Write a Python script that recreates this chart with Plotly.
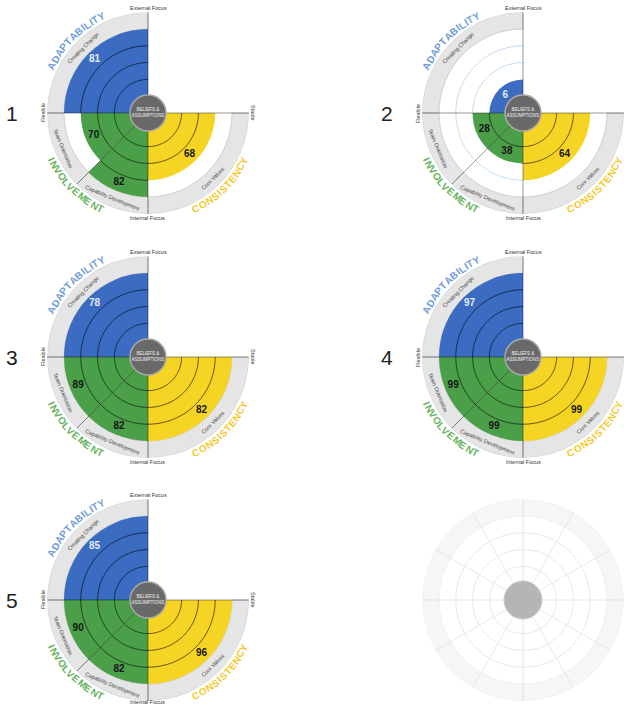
import math
import numpy as np
import plotly.graph_objects as go

# ---------------- data ----------------
chart_ids = ["1", "2", "3", "4", "5"]
creating_change = [81, 6, 78, 97, 85]
team_orientation = [70, 28, 89, 99, 90]
capability_development = [82, 38, 82, 99, 82]
core_values = [68, 64, 82, 99, 96]

segment_names = ["Creating Change", "Team Orientation", "Capability Development", "Core Values"]
segment_theta = [135, 202.5, 247.5, 315]
segment_width = [90, 45, 45, 90]

trait_names = ["ADAPTABILITY", "INVOLVEMENT", "CONSISTENCY"]
trait_theta = [135, 225, 315]

axis_labels = ["External Focus", "Flexible", "Internal Focus", "Stable"]
axis_theta = [90, 180, 270, 0]

# ---------------- style / layout ----------------
W, H = 624, 706
U = 16.8                      # pixels per ring unit
RMAX = 6                      # outer edge of band (ring units)
FONT = "Liberation Sans, Arial, sans-serif"
seg_colors = ["#3b6cc1", "#4a9f48", "#4a9f48", "#f6d423"]
val_colors = ["#e4ebf7", "#161616", "#161616", "#161616"]
trait_colors = ["#6f9cd9", "#67b45c", "#f5c92e"]
centers = [(148, 113), (523, 113), (148, 357), (523, 357), (148, 600)]
blank_center = (523, 600)

# optical letter widths (em) for letter-by-letter arc text
BOLD_W = dict(A=.70, B=.70, C=.70, D=.70, E=.64, I=.30, L=.56, M=.80,
              N=.70, O=.74, P=.64, S=.64, T=.58, V=.62, Y=.62)


def domain(cx, cy):
    R = RMAX * U
    return dict(x=[max(0, (cx - R) / W), min(1, (cx + R) / W)],
                y=[max(0, 1 - (cy + R) / H), min(1, 1 - (cy - R) / H)])


def to_px(cx, cy, r, th):
    t = math.radians(th)
    return cx + r * U * math.cos(t), cy - r * U * math.sin(t)


def paper(px, py):
    return px / W, 1 - py / H


def quart_top(v):
    return 1 + max(1, math.ceil(v / 25))


fig = go.Figure()
annotations = []


def polar_layout(cx, cy):
    return dict(domain=domain(cx, cy), bgcolor="rgba(0,0,0,0)",
                radialaxis=dict(visible=False, range=[0, RMAX]),
                angularaxis=dict(visible=False, rotation=0, direction="counterclockwise"))


def arc(r, a0, a1, n=60):
    th = list(np.linspace(a0, a1, n))
    return [r] * n, th


layout_polars = {}
for i, cid in enumerate(chart_ids):
    sp = "polar" if i == 0 else f"polar{i + 1}"
    cx, cy = centers[i]
    layout_polars[sp] = polar_layout(cx, cy)
    vals = [creating_change[i], team_orientation[i], capability_development[i], core_values[i]]
    tops = [quart_top(v) for v in vals]

    # outer grey band
    fig.add_trace(go.Barpolar(subplot=sp, theta=segment_theta, width=segment_width,
                              base=[5] * 4, r=[1] * 4,
                              marker=dict(color="#e5e5e5", line=dict(color="#c6c6c6", width=0.8)),
                              hoverinfo="skip"))
    # coloured bars
    fig.add_trace(go.Barpolar(subplot=sp, theta=segment_theta, width=segment_width,
                              base=[0] * 4, r=tops,
                              marker=dict(color=seg_colors, line=dict(width=0)),
                              hovertext=[f"{n}: {v}" for n, v in zip(segment_names, vals)],
                              hoverinfo="text"))
    # ring arcs
    dr, dt, lr, lt = [], [], [], []
    for th, w, top in zip(segment_theta, segment_width, tops):
        a0, a1 = th - w / 2, th + w / 2
        for k in [1, 2, 3, 4]:
            rr, tt = arc(k, a0, a1)
            if k < top:
                dr += rr + [None]; dt += tt + [None]
            elif k > top:
                lr += rr + [None]; lt += tt + [None]
    fig.add_trace(go.Scatterpolar(subplot=sp, r=lr, theta=lt, mode="lines",
                                  line=dict(color="#bcd9f3", width=1), hoverinfo="skip"))
    fig.add_trace(go.Scatterpolar(subplot=sp, r=dr, theta=dt, mode="lines",
                                  line=dict(color="rgba(0,0,0,0.6)", width=1), hoverinfo="skip"))
    # axis / divider lines
    lr2, lt2 = [], []
    for th, rmax in [(90, 6.2), (270, 6.2), (180, 6.1), (0, 6.1), (225, 6.0)]:
        lr2 += [0, rmax, None]; lt2 += [th, th, None]
    fig.add_trace(go.Scatterpolar(subplot=sp, r=lr2, theta=lt2, mode="lines", cliponaxis=False,
                                  line=dict(color="rgba(0,0,0,0.45)", width=0.9), hoverinfo="skip"))
    # centre circle
    fig.add_trace(go.Scatterpolar(subplot=sp, r=[0], theta=[0], mode="markers+text",
                                  marker=dict(size=36, color="#696969", line=dict(color="#a9a9a9", width=1.5)),
                                  text=["BELIEFS &<br>ASSUMPTIONS"], textposition="middle center",
                                  textfont=dict(size=4.5, color="#f0f0f0", family=FONT),
                                  hoverinfo="skip"))
    # value labels
    fig.add_trace(go.Scatterpolar(subplot=sp, r=[t - 0.5 for t in tops], theta=segment_theta,
                                  mode="text", text=[f"<b>{v}</b>" for v in vals],
                                  textfont=dict(size=10, color=val_colors, family=FONT),
                                  hoverinfo="skip"))

    # chart number
    x, y = paper(cx - 136, cy)
    annotations.append(dict(x=x, y=y, xref="paper", yref="paper", text=cid, showarrow=False,
                            font=dict(size=21, color="#222", family=FONT),
                            xanchor="center", yanchor="middle"))
    # axis labels
    for lab, th in zip(axis_labels, axis_theta):
        px, py = to_px(cx, cy, 6.25, th)
        if px > W - 3:
            continue
        py = min(py, H - 4)
        ang = {90: 0, 270: 0, 180: -90, 0: 90}[th]
        x, y = paper(px, py)
        annotations.append(dict(x=x, y=y, xref="paper", yref="paper", text=lab, showarrow=False,
                                textangle=ang, font=dict(size=5.5, color="#333", family=FONT),
                                xanchor="center", yanchor="middle"))
    # band labels
    for lab, th in zip(segment_names, segment_theta):
        px, py = to_px(cx, cy, 5.5, th)
        ang = 90 - th if 0 < th < 180 else 270 - th
        x, y = paper(px, py)
        annotations.append(dict(x=x, y=y, xref="paper", yref="paper", text=lab, showarrow=False,
                                textangle=ang, font=dict(size=5.5, color="#444", family=FONT),
                                xanchor="center", yanchor="middle"))
    # curved trait titles
    Rt = 107.0
    fs = 10
    for name, thc, col in zip(trait_names, trait_theta, trait_colors):
        widths = [BOLD_W[c] * fs + 0.6 for c in name]
        total = sum(widths)
        s = 0
        top_side = 0 < thc < 180
        for ch, w in zip(name, widths):
            mid = s + w / 2
            s += w
            d = math.degrees((total / 2 - mid) / Rt)
            th = thc + d if top_side else thc - d
            t = math.radians(th)
            px, py = cx + Rt * math.cos(t), cy - Rt * math.sin(t)
            ang = 90 - th if top_side else 270 - th
            x, y = paper(px, py)
            annotations.append(dict(x=x, y=y, xref="paper", yref="paper", text=f"<b>{ch}</b>",
                                    showarrow=False, textangle=ang,
                                    font=dict(size=fs, color=col, family=FONT),
                                    xanchor="center", yanchor="middle"))

# ---------------- blank template chart ----------------
sp = "polar6"
cx, cy = blank_center
layout_polars[sp] = polar_layout(cx, cy)
spokes = list(range(0, 360, 30))
fig.add_trace(go.Barpolar(subplot=sp, theta=[a + 15 for a in spokes], width=[30] * 12,
                          base=[5] * 12, r=[1] * 12,
                          marker=dict(color="#f6f6f6", line=dict(color="#ebebeb", width=0.8)),
                          hoverinfo="skip"))
br, bt = [], []
for k in [2, 3, 4]:
    rr, tt = arc(k, 0, 360, 120)
    br += rr + [None]; bt += tt + [None]
for a in spokes:
    br += [0, 6, None]; bt += [a, a, None]
fig.add_trace(go.Scatterpolar(subplot=sp, r=br, theta=bt, mode="lines",
                              line=dict(color="#e8e8e8", width=1), hoverinfo="skip"))
fig.add_trace(go.Scatterpolar(subplot=sp, r=[0], theta=[0], mode="markers",
                              marker=dict(size=38, color="#b5b5b5", line=dict(color="#c8c8c8", width=1)),
                              hoverinfo="skip"))

fig.update_layout(width=W, height=H, margin=dict(l=0, r=0, t=0, b=0),
                  paper_bgcolor="white", plot_bgcolor="white", showlegend=False,
                  annotations=annotations, **layout_polars)

fig.write_html("out.html")
